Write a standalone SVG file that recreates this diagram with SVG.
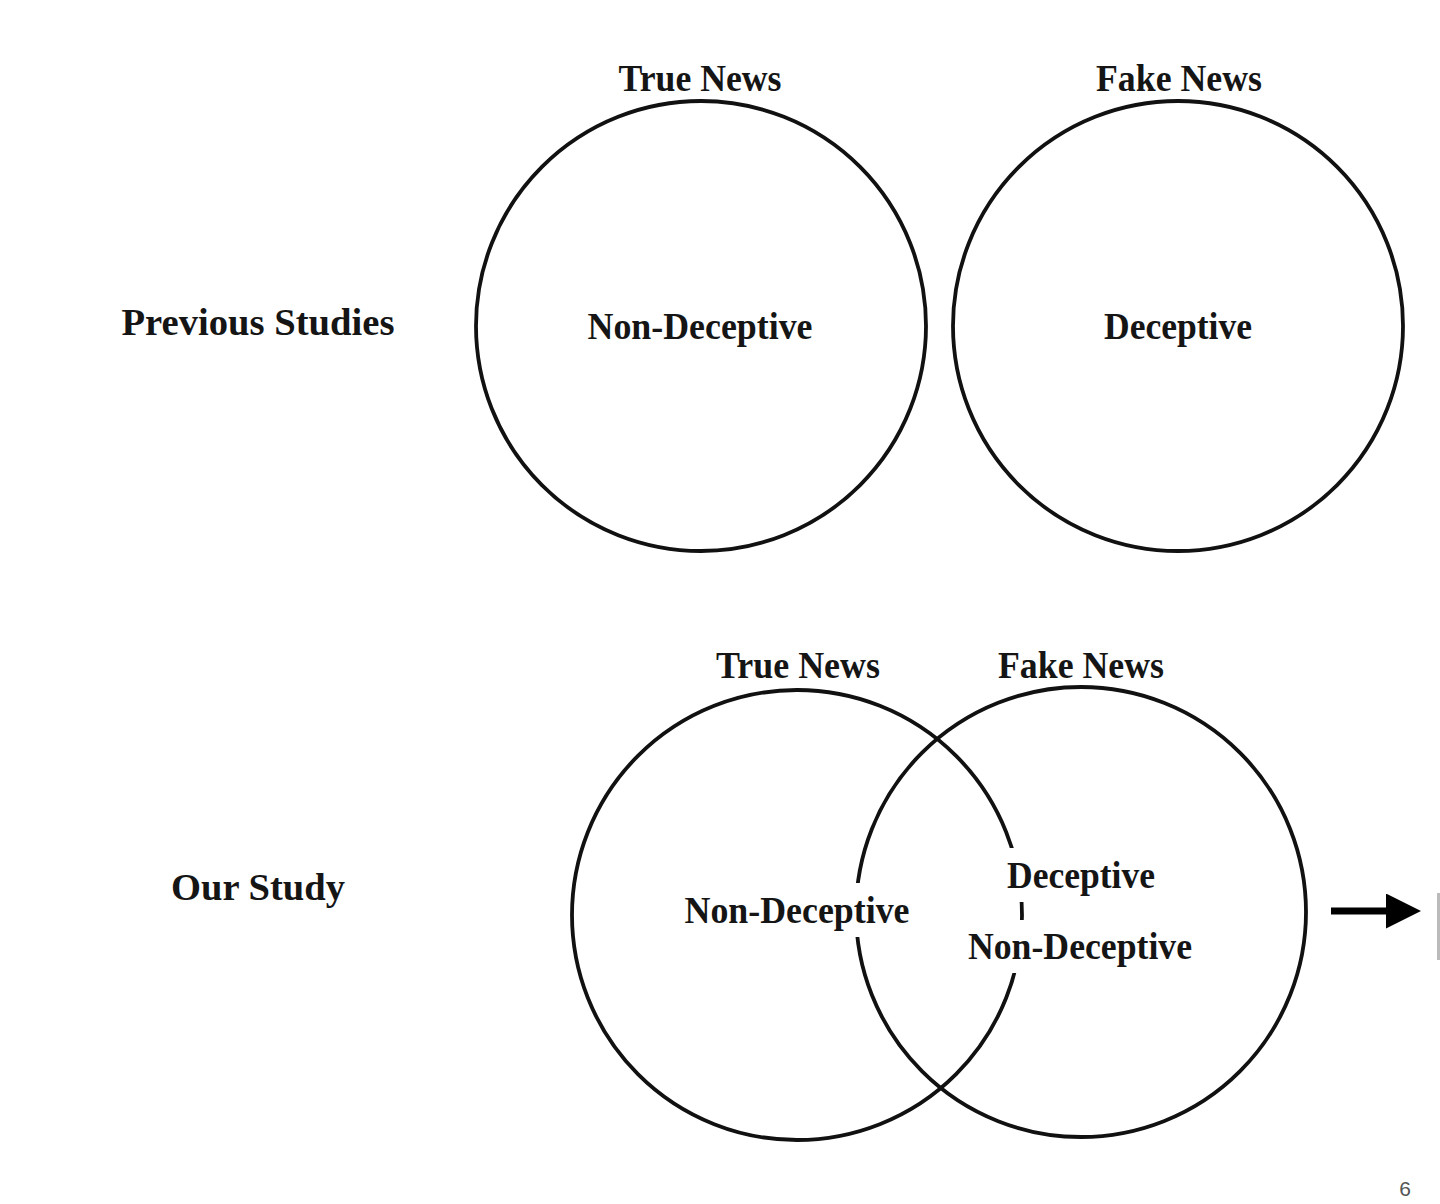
<svg xmlns="http://www.w3.org/2000/svg" width="1440" height="1204" viewBox="0 0 1440 1204">
  <style>
    .ring { fill: none; stroke: #111; stroke-width: 3.8; }
    .lbl { font-family: "Liberation Serif", "Times New Roman", serif; font-weight: bold; font-size: 37px; fill: #151515; text-anchor: middle; }
    .bg { fill: #fff; }
    .pg { font-family: "Liberation Sans", Arial, sans-serif; font-size: 21px; fill: #555; text-anchor: middle; }
  </style>
  <defs>
    <marker id="ah" markerWidth="5" markerHeight="5" refX="0" refY="2.5" orient="auto" markerUnits="strokeWidth">
      <path d="M0,0 L5,2.5 L0,5 Z" fill="#000"/>
    </marker>
  </defs>
  <rect width="1440" height="1204" fill="#fff"/>

  <g id="row-labels">
    <text class="lbl" x="258" y="335" textLength="273" lengthAdjust="spacingAndGlyphs">Previous Studies</text>
    <text class="lbl" x="258" y="900" textLength="174" lengthAdjust="spacingAndGlyphs">Our Study</text>
  </g>

  <g id="prev-true">
    <circle class="ring" cx="701" cy="326" r="225"/>
    <text class="lbl" x="700" y="91" textLength="163" lengthAdjust="spacingAndGlyphs">True News</text>
    <text class="lbl" x="700" y="339" textLength="225" lengthAdjust="spacingAndGlyphs">Non-Deceptive</text>
  </g>

  <g id="prev-fake">
    <circle class="ring" cx="1178" cy="326" r="225"/>
    <text class="lbl" x="1179" y="91" textLength="166" lengthAdjust="spacingAndGlyphs">Fake News</text>
    <text class="lbl" x="1178" y="339" textLength="148" lengthAdjust="spacingAndGlyphs">Deceptive</text>
  </g>

  <g id="our-true">
    <circle class="ring" cx="797" cy="915" r="225"/>
    <text class="lbl" x="798" y="678" textLength="164" lengthAdjust="spacingAndGlyphs">True News</text>
  </g>

  <g id="our-fake">
    <circle class="ring" cx="1081" cy="912" r="225"/>
    <text class="lbl" x="1081" y="678" textLength="166" lengthAdjust="spacingAndGlyphs">Fake News</text>
  </g>

  <g id="our-labels">
    <rect class="bg" x="680" y="883" width="235" height="54"/>
    <text class="lbl" x="797" y="923" textLength="225" lengthAdjust="spacingAndGlyphs">Non-Deceptive</text>
    <rect class="bg" x="1000" y="848" width="162" height="54"/>
    <text class="lbl" x="1081" y="888" textLength="148" lengthAdjust="spacingAndGlyphs">Deceptive</text>
    <rect class="bg" x="962" y="920" width="236" height="53"/>
    <text class="lbl" x="1080" y="959" textLength="224" lengthAdjust="spacingAndGlyphs">Non-Deceptive</text>
  </g>

  <g id="connectors">
    <line x1="1331" y1="911" x2="1386" y2="911" stroke="#000" stroke-width="7" marker-end="url(#ah)"/>
  </g>

  <g id="edge">
    <rect x="1437" y="893" width="3" height="67" fill="#bbb"/>
  </g>

  <g id="page-number">
    <text class="pg" x="1405" y="1196">6</text>
  </g>
</svg>
